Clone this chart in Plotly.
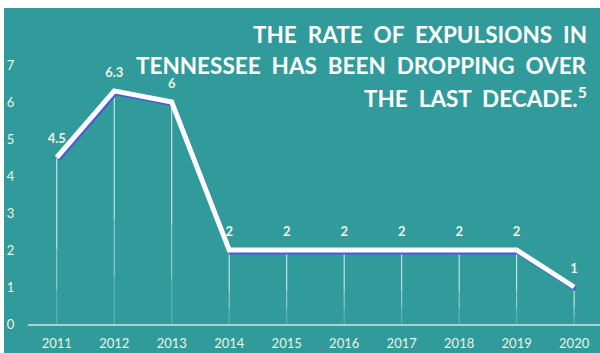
import plotly.graph_objects as go

years = ["2011", "2012", "2013", "2014", "2015", "2016", "2017", "2018", "2019", "2020"]
rates = [4.5, 6.3, 6, 2, 2, 2, 2, 2, 2, 1]
rate_labels = ["4.5", "6.3", "6", "2", "2", "2", "2", "2", "2", "1"]
y_ticks = [0, 1, 2, 3, 4, 5, 6, 7]
title_lines = ["THE  RATE  OF  EXPULSIONS  IN",
               "TENNESSEE  HAS  BEEN  DROPPING  OVER",
               "THE  LAST  DECADE.<sup>5</sup>"]

TEAL = "#319b9c"
CREAM = "#eef3e2"
W, H = 600, 353
L, R, T, B = 28, 0, 28, 29
pw, ph = W - L - R, H - T - B

xs = list(range(len(years)))

fig = go.Figure()

# drop lines (fading toward the axis)
def drops(lo_frac, hi_frac, color):
    dx, dy = [], []
    for x, v in zip(xs, rates):
        dx += [x, x, None]
        dy += [v * hi_frac, v * lo_frac, None]
    fig.add_trace(go.Scatter(x=dx, y=dy, mode="lines", hoverinfo="skip",
                             line=dict(color=color, width=1), showlegend=False))

drops(0.45, 1.0, "rgba(255,255,255,0.85)")
drops(0.2, 0.45, "rgba(255,255,255,0.55)")
drops(0.0, 0.2, "rgba(255,255,255,0.25)")

# shadow line (offset slightly down-right)
sx = [x + 1.5 / (pw / 9.95) for x in xs]
sy = [v - 2.2 / (ph / 8) for v in rates]
fig.add_trace(go.Scatter(x=sx, y=sy, mode="lines", hoverinfo="skip",
                         line=dict(color="#4a5cd4", width=4.5), showlegend=False))
# main line
fig.add_trace(go.Scatter(x=xs, y=rates, mode="lines", hoverinfo="skip",
                         line=dict(color="white", width=5), showlegend=False))
# data labels
fig.add_trace(go.Scatter(x=xs, y=rates, mode="markers+text",
                         text=["<b>" + t + "</b>" for t in rate_labels],
                         textposition="top center",
                         marker=dict(size=16, color="rgba(0,0,0,0)"),
                         textfont=dict(family="Lato", size=13, color=CREAM),
                         hoverinfo="skip", showlegend=False))

# teal background panel
fig.add_shape(type="rect", xref="paper", yref="paper", layer="below",
              x0=(4 - L) / pw, x1=(W + 5 - L) / pw,
              y0=(T + ph - (H + 5)) / ph, y1=(T + ph - 8) / ph,
              fillcolor=TEAL, line=dict(width=0))

title_y = [34, 65, 97]
for line, py in zip(title_lines, title_y):
    fig.add_annotation(text="<b>" + line + "</b>", xref="paper", yref="paper",
                       x=(589 - L) / pw, y=(T + ph - py) / ph,
                       xanchor="right", yanchor="middle", showarrow=False,
                       font=dict(family="Lato", size=22.5, color="white"))

fig.update_layout(
    width=W, height=H,
    margin=dict(l=L, r=R, t=T, b=B),
    paper_bgcolor="white", plot_bgcolor="rgba(0,0,0,0)",
    hovermode=False,
    xaxis=dict(range=[-0.5, 9.45], tickvals=xs, ticktext=years,
               showgrid=False, zeroline=False, showline=True,
               linecolor="#a8d3d1", linewidth=2, ticks="outside",
               ticklen=6, tickcolor="rgba(0,0,0,0)",
               tickfont=dict(family="Lato", size=13, color=CREAM),
               fixedrange=True),
    yaxis=dict(range=[0, 8], tickvals=y_ticks, showgrid=False,
               zeroline=False, showline=False, ticks="outside",
               ticklen=10, tickcolor="rgba(0,0,0,0)",
               tickfont=dict(family="Lato", size=13, color=CREAM),
               fixedrange=True),
    showlegend=False,
)

fig.write_html("out.html", config={"displayModeBar": False, "staticPlot": True},
               post_script="document.body.style.margin='0px';document.body.style.overflow='hidden';")
